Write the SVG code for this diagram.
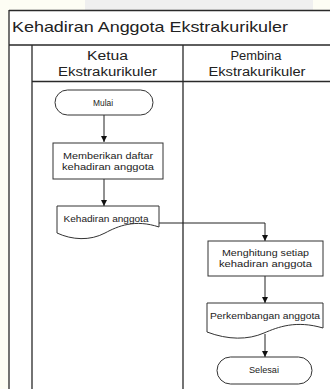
<svg xmlns="http://www.w3.org/2000/svg" width="330" height="389" viewBox="0 0 330 389">
<defs>
<style>
.ln{fill:none;stroke:#2a2a2a;stroke-width:1.3}
.sh{fill:#fff;stroke:#333;stroke-width:1}
.cn{fill:none;stroke:#222;stroke-width:1}
text{font-family:"Liberation Sans",Arial,sans-serif;fill:#222;text-anchor:middle}
.t{font-size:9.5px}
.h{font-size:12px}
</style>
<marker id="ah" viewBox="0 0 10 10" refX="10" refY="5" markerWidth="6" markerHeight="6" orient="auto" markerUnits="userSpaceOnUse">
<path d="M0,0 L10,5 L0,10 Z" fill="#111"/>
</marker>
</defs>
<rect x="0" y="0" width="330" height="389" fill="#fdfdf4"/>
<rect x="85" y="0" width="228" height="10" fill="#efefef"/>
<rect x="9" y="10" width="330" height="389" fill="#fff"/>
<g id="frame">
<path class="ln" d="M9,10.5 H330 M9,10 V389 M9,45 H330 M32,45 V389 M183,45 V389 M32,81.5 H330"/>
<text x="12" y="32" style="font-size:15px;text-anchor:start" textLength="276" lengthAdjust="spacingAndGlyphs">Kehadiran Anggota Ekstrakurikuler</text>
</g>
<g id="lane1">
<text class="h" x="107.5" y="60" textLength="41" lengthAdjust="spacingAndGlyphs">Ketua</text>
<text class="h" x="107.5" y="76" textLength="99" lengthAdjust="spacingAndGlyphs">Ekstrakurikuler</text>
</g>
<g id="lane2">
<text class="h" x="256" y="60" textLength="51" lengthAdjust="spacingAndGlyphs">Pembina</text>
<text class="h" x="257" y="76" textLength="97" lengthAdjust="spacingAndGlyphs">Ekstrakurikuler</text>
</g>
<g id="connectors">
<path class="cn" d="M104,115 V142" marker-end="url(#ah)"/>
<path class="cn" d="M104,179 V206" marker-end="url(#ah)"/>
<path class="cn" d="M159,223 H265 V241" marker-end="url(#ah)"/>
<path class="cn" d="M265,276 V303" marker-end="url(#ah)"/>
<path class="cn" d="M265,334 V357" marker-end="url(#ah)"/>
</g>
<g id="mulai">
<rect class="sh" x="55" y="90" width="98" height="25" rx="12.5"/>
<text class="t" x="103" y="105.5" textLength="20" lengthAdjust="spacingAndGlyphs">Mulai</text>
</g>
<g id="memberikan">
<rect class="sh" x="53" y="143" width="110" height="36"/>
<text class="t" x="108" y="159" textLength="90" lengthAdjust="spacingAndGlyphs">Memberikan daftar</text>
<text class="t" x="108" y="170" textLength="92" lengthAdjust="spacingAndGlyphs">kehadiran anggota</text>
</g>
<g id="kehadiran">
<path class="sh" d="M57,206 H159 V227 C135,219 118,226 105,233 C90,241 72,240 57,233 Z"/>
<text class="t" x="106" y="222" textLength="85" lengthAdjust="spacingAndGlyphs">Kehadiran anggota</text>
</g>
<g id="menghitung">
<rect class="sh" x="208" y="241" width="115" height="35"/>
<text class="t" x="265.5" y="256" textLength="87" lengthAdjust="spacingAndGlyphs">Menghitung setiap</text>
<text class="t" x="265.5" y="267" textLength="93" lengthAdjust="spacingAndGlyphs">kehadiran anggota</text>
</g>
<g id="perkembangan">
<path class="sh" d="M207,303 H323 V328 C296,320 278,327 264,333 C248,340 228,340 207,332 Z"/>
<text class="t" x="265" y="319" textLength="110" lengthAdjust="spacingAndGlyphs">Perkembangan anggota</text>
</g>
<g id="selesai">
<rect class="sh" x="217" y="357" width="95" height="27" rx="13.5"/>
<text class="t" x="264" y="373" textLength="30" lengthAdjust="spacingAndGlyphs">Selesai</text>
</g>
</svg>
